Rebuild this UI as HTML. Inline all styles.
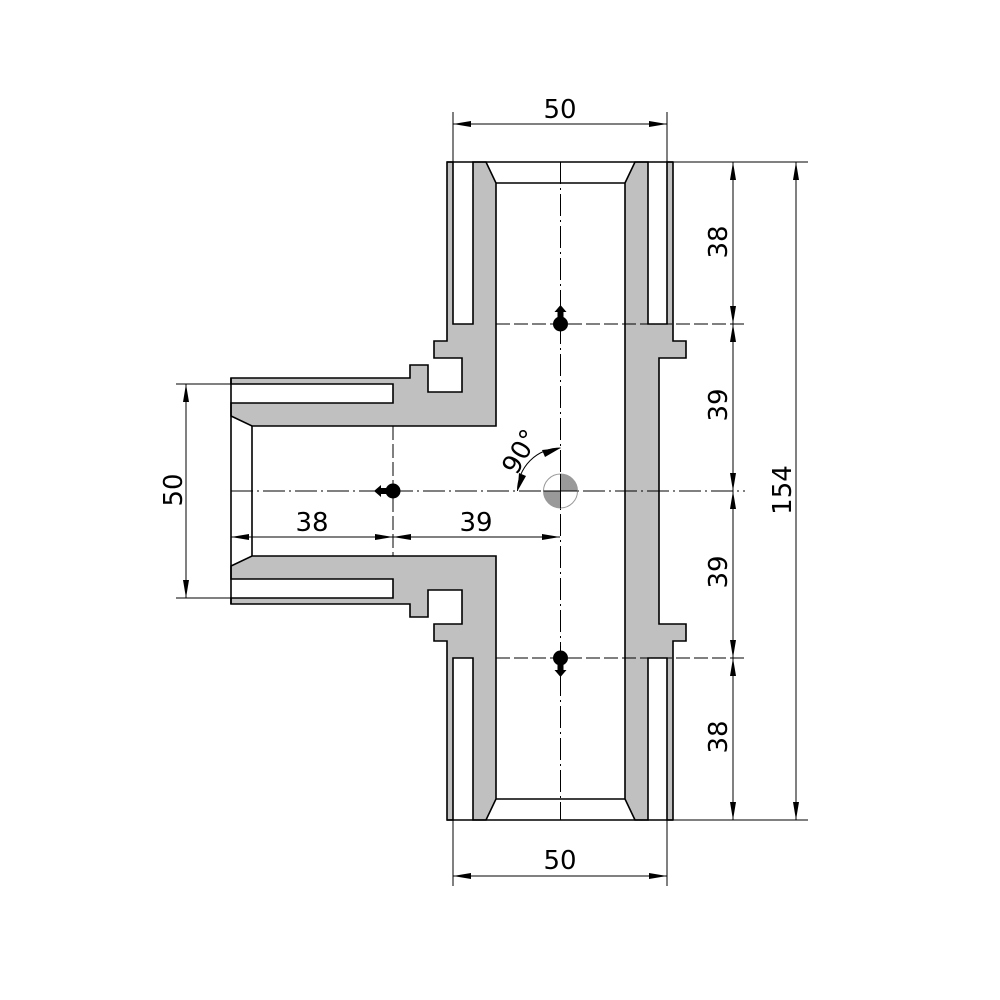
<!DOCTYPE html>
<html><head><meta charset="utf-8"><style>html,body{margin:0;padding:0;background:#fff}svg{display:block}</style></head>
<body>
<svg width="1000" height="1000" viewBox="0 0 1000 1000" xmlns="http://www.w3.org/2000/svg" font-family="'DejaVu Sans','Liberation Sans',sans-serif">
<defs>
<g id="tl">
<polygon points="231,378 410,378 410,365 428,365 428,392 462,392 462,358 434,358 434,341 447,341 447,162 453,162 453,324 473,324 473,162 486,162 496,183 496,426 252,426 231,416 231,403 393,403 393,384 231,384" fill="#c0c0c0" stroke="#000" stroke-width="1.6"/>
</g>
<g id="mk"><circle cx="0" cy="0" r="7.5" fill="#000"/><polygon points="-3,-6 -3,-12 -6,-12 0,-19 6,-12 3,-12 3,-6" fill="#000"/></g>
</defs>
<!-- gray bodies -->
<use href="#tl"/>
<use href="#tl" transform="translate(0,982) scale(1,-1)"/>
<polygon points="625,183 635,162 648,162 648,324 667,324 667,162 673,162 673,341 686,341 686,358 659,358 659,624 686,624 686,641 673,641 673,820 667,820 667,658 648,658 648,820 635,820 625,799" fill="#c0c0c0" stroke="#000" stroke-width="1.6"/>
<!-- end lines -->
<g stroke="#000" stroke-width="1.6" fill="none">
<line x1="447" y1="162" x2="673" y2="162"/>
<line x1="496" y1="183" x2="625" y2="183"/>
<line x1="447" y1="820" x2="673" y2="820"/>
<line x1="496" y1="799" x2="625" y2="799"/>
<line x1="231" y1="378" x2="231" y2="604"/>
<line x1="252" y1="426" x2="252" y2="556"/>
</g>
<!-- center lines -->
<g stroke="#000" stroke-width="1" fill="none">
<line x1="560.5" y1="162" x2="560.5" y2="820" stroke-dasharray="22,4,2,4"/>
<line x1="231" y1="491" x2="745" y2="491" stroke-dasharray="22,4,2,4"/>
<line x1="393" y1="426" x2="393" y2="556" stroke-dasharray="14,4"/>
<line x1="496" y1="324" x2="745" y2="324" stroke-dasharray="14,4"/>
<line x1="496" y1="658" x2="745" y2="658" stroke-dasharray="14,4"/>
</g>
<!-- dimension lines -->
<g stroke="#000" stroke-width="1" fill="none">
<line x1="453" y1="112" x2="453" y2="162"/><line x1="667" y1="112" x2="667" y2="162"/>
<line x1="453" y1="124" x2="667" y2="124"/>
<line x1="453" y1="820" x2="453" y2="886"/><line x1="667" y1="820" x2="667" y2="886"/>
<line x1="453" y1="876" x2="667" y2="876"/>
<line x1="673" y1="162" x2="808" y2="162"/><line x1="673" y1="820" x2="808" y2="820"/>
<line x1="733" y1="162" x2="733" y2="820"/>
<line x1="796" y1="162" x2="796" y2="820"/>
<line x1="176" y1="384" x2="231" y2="384"/><line x1="176" y1="598" x2="231" y2="598"/>
<line x1="186" y1="384" x2="186" y2="598"/>
<line x1="231" y1="537" x2="560" y2="537"/>
<path d="M560.5,448 A43,43 0 0 0 517.5,491"/>
</g>
<!-- arrows -->
<g fill="#000">
<polygon points="453,124 471,121 471,127"/><polygon points="667,124 649,121 649,127"/>
<polygon points="453,876 471,873 471,879"/><polygon points="667,876 649,873 649,879"/>
<polygon points="733,162 730,180 736,180"/>
<polygon points="733,324 730,306 736,306"/><polygon points="733,324 730,342 736,342"/>
<polygon points="733,491 730,473 736,473"/><polygon points="733,491 730,509 736,509"/>
<polygon points="733,658 730,640 736,640"/><polygon points="733,658 730,676 736,676"/>
<polygon points="733,820 730,802 736,802"/>
<polygon points="796,162 793,180 799,180"/><polygon points="796,820 793,802 799,802"/>
<polygon points="186,384 183,402 189,402"/><polygon points="186,598 183,580 189,580"/>
<polygon points="231,537 249,534 249,540"/>
<polygon points="393,537 375,534 375,540"/><polygon points="393,537 411,534 411,540"/>
<polygon points="560,537 542,534 542,540"/>
<polygon points="560.5,448 542,450 545,457"/>
<polygon points="517.5,491 519,473 526,476"/>
</g>
<!-- center symbol -->
<circle cx="560.5" cy="491" r="17" fill="#fff" stroke="#999" stroke-width="1"/>
<path d="M560.5,491 L560.5,474 A17,17 0 0 1 577.5,491 Z" fill="#999"/>
<path d="M560.5,491 L560.5,508 A17,17 0 0 1 543.5,491 Z" fill="#999"/>
<line x1="543.5" y1="491" x2="577.5" y2="491" stroke="#000" stroke-width="1"/>
<line x1="560.5" y1="474" x2="560.5" y2="508" stroke="#000" stroke-width="1"/>
<!-- markers -->
<use href="#mk" transform="translate(560.5,324)"/>
<use href="#mk" transform="translate(560.5,658) rotate(180)"/>
<use href="#mk" transform="translate(393,491) rotate(-90)"/>
<!-- text -->
<g font-size="26" fill="#000" text-anchor="middle">
<text x="560" y="118">50</text>
<text x="560" y="869">50</text>
<text x="312" y="531">38</text>
<text x="476" y="531">39</text>
<text transform="translate(727,242) rotate(-90)">38</text>
<text transform="translate(727,405) rotate(-90)">39</text>
<text transform="translate(727,572) rotate(-90)">39</text>
<text transform="translate(727,737) rotate(-90)">38</text>
<text transform="translate(791,490) rotate(-90)">154</text>
<text transform="translate(182,490) rotate(-90)">50</text>
<text transform="translate(528,456) rotate(-60)">90°</text>
</g>
</svg>
</body></html>
